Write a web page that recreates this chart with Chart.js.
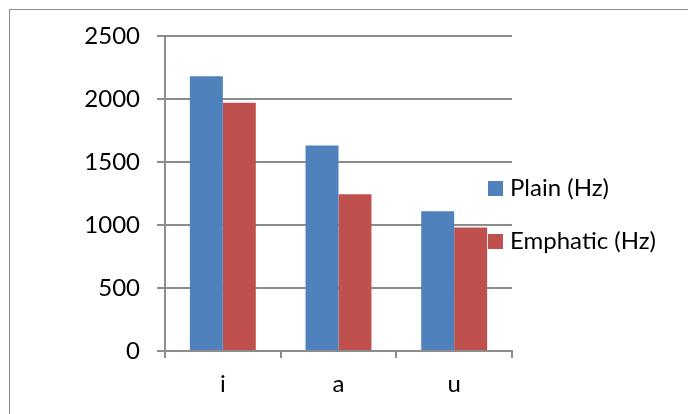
<!DOCTYPE html>
<html>
<head>
<meta charset="utf-8">
<script src="https://cdn.jsdelivr.net/npm/chart.js@4/dist/chart.umd.min.js"></script>
<style>
  html, body { margin: 0; padding: 0; background: #fff; overflow: hidden; }
  #wrap { position: relative; width: 688px; height: 414px; }
  #frame { position: absolute; left: 9px; top: 9px; width: 800px; height: 500px; border: 1px solid #8c8c8c; }
  #chart { position: absolute; left: 0; top: 0; }
</style>
</head>
<body>
<div id="wrap">
  <div id="frame"></div>
  <canvas id="chart" width="688" height="414"></canvas>
</div>
<script>
const vocales = ['i', 'a', 'u'];
const plainHz = [2180, 1630, 1110];
const emphaticHz = [1970, 1245, 980];
const nombresSeries = ['Plain (Hz)', 'Emphatic (Hz)'];
const coloresSeries = ['#4F81BD', '#C0504D'];
const ticksY = [0, 500, 1000, 1500, 2000, 2500];

const fuente = 'Lato, "Open Sans", sans-serif';
const gris = '#8c8c8c';

// leyenda a la derecha, dibujada encima de las barras como en Excel
const leyendaPlugin = {
    id: 'leyendaDerecha',
    afterDatasetsDraw(chart) {
        const ctx = chart.ctx;
        ctx.save();
        ctx.font = '24px ' + fuente;
        ctx.textBaseline = 'middle';
        ctx.textAlign = 'left';
        chart.data.datasets.forEach((ds, i) => {
            const y = 188 + i * 53;
            ctx.fillStyle = ds.backgroundColor;
            ctx.fillRect(488, y - 7, 15, 15);
            ctx.fillStyle = '#000';
            ctx.fillText(ds.label, 510, y);
        });
        ctx.restore();
    }
};

const grafico = new Chart(document.getElementById('chart'), {
    type: 'bar',
    data: {
        labels: vocales,
        datasets: [{
            label: nombresSeries[0],
            data: plainHz,
            backgroundColor: coloresSeries[0],
            borderWidth: 0,
        }, {
            label: nombresSeries[1],
            data: emphaticHz,
            backgroundColor: coloresSeries[1],
            borderWidth: 0,
        }]
    },
    options: {
        responsive: false,
        animation: false,
        devicePixelRatio: 1,
        layout: { padding: { top: 36, right: 176, left: 0, bottom: 0 } },
        datasets: {
            bar: { barPercentage: 1.0, categoryPercentage: 0.57 }
        },
        plugins: {
            legend: { display: false },
            tooltip: { enabled: false }
        },
        scales: {
            y: {
                min: 0,
                max: 2500,
                afterBuildTicks: (scale) => { scale.ticks = ticksY.map(v => ({ value: v })); },
                afterFit: (scale) => { scale.width = 165; },
                grid: {
                    color: gris,
                    lineWidth: 2,
                    tickLength: 8,
                    drawTicks: true
                },
                border: { color: gris, width: 2 },
                ticks: {
                    color: '#000',
                    padding: 17,
                    font: { family: fuente, size: 24 },
                    callback: (v) => String(v)
                }
            },
            x: {
                afterFit: (scale) => { scale.height = 414 - 351; },
                grid: {
                    offset: true,
                    drawOnChartArea: false,
                    color: gris,
                    lineWidth: 2,
                    tickLength: 7
                },
                border: { color: gris, width: 2 },
                ticks: {
                    color: '#000',
                    padding: 12,
                    font: { family: fuente, size: 24 }
                }
            }
        }
    },
    plugins: [leyendaPlugin]
});
</script>
</body>
</html>
